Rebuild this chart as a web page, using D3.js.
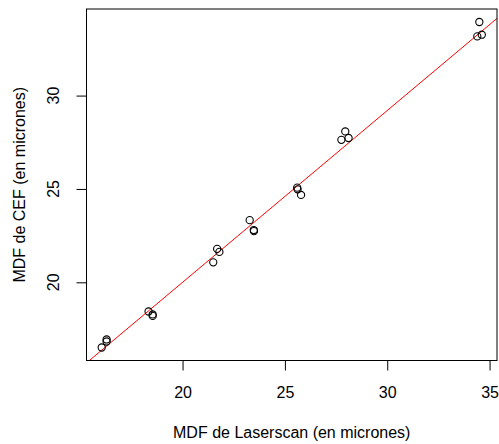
<!DOCTYPE html>
<html>
<head>
<meta charset="utf-8">
<script src="https://cdn.jsdelivr.net/npm/d3@7"></script>
<style>
  body { margin: 0; background: #fff; }
  text { font-family: "Liberation Sans", Arial, sans-serif; fill: #000; }
</style>
</head>
<body>
<script>
// MDF values
const laserscan = [16.05, 16.29, 16.29, 18.34, 18.54, 18.54, 21.50, 21.69, 21.80,
    23.28, 23.48, 23.49, 25.60, 25.62, 25.79, 27.76, 27.95, 28.11, 34.40, 34.50, 34.62];
const cef = [16.51, 16.94, 16.83, 18.44, 18.28, 18.20, 21.07, 21.79, 21.63,
    23.33, 22.80, 22.74, 25.07, 24.98, 24.68, 27.63, 28.08, 27.73, 33.17, 33.94, 33.26];
const xTicks = [20, 25, 30, 35];
const yTicks = [20, 25, 30];
// fitted line (intercept, slope)
const fit = [1.6, 0.92];

const W = 499, H = 444;
const margin = {top: 9, right: 2, bottom: 83.5, left: 86.5};
const width = W - margin.left - margin.right,
    height = H - margin.top - margin.bottom;

const data = laserscan.map(function (d, i) { return {x: d, y: cef[i]}; });

// R style 4% padding of the ranges
function pad(ext) {
    const r = ext[1] - ext[0];
    return [ext[0] - 0.04 * r, ext[1] + 0.04 * r];
}

const x = d3.scaleLinear().domain(pad(d3.extent(laserscan))).range([0, width]);
const y = d3.scaleLinear().domain(pad(d3.extent(cef))).range([height, 0]);

const svg = d3.select("body").append("svg")
    .attr("width", W)
    .attr("height", H);

const g = svg.append("g")
    .attr("transform", "translate(" + margin.left + "," + margin.top + ")");

svg.append("clipPath").attr("id", "clip")
    .append("rect").attr("width", width).attr("height", height);

// regression line
const xd = x.domain();
g.append("line")
    .attr("clip-path", "url(#clip)")
    .attr("x1", x(xd[0])).attr("y1", y(fit[0] + fit[1] * xd[0]))
    .attr("x2", x(xd[1])).attr("y2", y(fit[0] + fit[1] * xd[1]))
    .attr("stroke", "#ff0000")
    .attr("stroke-width", 1);

// points
g.selectAll("circle")
    .data(data)
    .enter().append("circle")
    .attr("cx", function (d) { return x(d.x); })
    .attr("cy", function (d) { return y(d.y); })
    .attr("r", 3.6)
    .attr("fill", "none")
    .attr("stroke", "#000")
    .attr("stroke-width", 1.1);

// box
g.append("rect")
    .attr("width", width)
    .attr("height", height)
    .attr("fill", "none")
    .attr("stroke", "#000")
    .attr("stroke-width", 1);

// x axis
const xAxis = g.append("g")
    .attr("transform", "translate(0," + height + ")")
    .call(d3.axisBottom(x).tickValues(xTicks).tickSize(10).tickPadding(16));
xAxis.select(".domain").remove();
xAxis.selectAll("text").attr("font-size", 16).style("font-family", "Liberation Sans, Arial, sans-serif");

// y axis (ticks only, labels rotated below)
const yAxis = g.append("g")
    .call(d3.axisLeft(y).tickValues(yTicks).tickSize(10).tickFormat(""));
yAxis.select(".domain").remove();

g.selectAll(".ylab")
    .data(yTicks)
    .enter().append("text")
    .attr("class", "ylab")
    .attr("transform", function (d) {
        return "translate(-28," + y(d) + ") rotate(-90)";
    })
    .attr("text-anchor", "middle")
    .attr("font-size", 16)
    .text(function (d) { return d; });

// axis titles
svg.append("text")
    .attr("x", margin.left + width / 2)
    .attr("y", 438)
    .attr("text-anchor", "middle")
    .attr("font-size", 16)
    .text("MDF de Laserscan (en micrones)");

svg.append("text")
    .attr("transform", "translate(25," + (margin.top + height / 2) + ") rotate(-90)")
    .attr("text-anchor", "middle")
    .attr("font-size", 16)
    .text("MDF de CEF (en micrones)");
</script>
</body>
</html>
